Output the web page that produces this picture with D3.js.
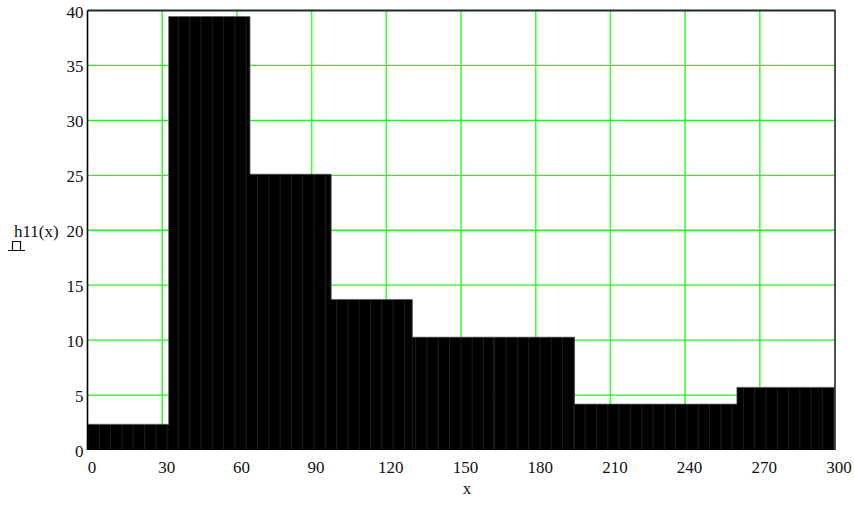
<!DOCTYPE html>
<html>
<head>
<meta charset="utf-8">
<script src="https://cdn.jsdelivr.net/npm/d3@7"></script>
<style>
  html, body { margin: 0; padding: 0; background: #fff; }
  svg { display: block; }
  svg text { font-family: "Liberation Serif", "Times New Roman", serif !important; fill: #111; font-size: 17px; }
</style>
</head>
<body>
<svg id="chart" width="854" height="508"></svg>
<script>
// Histogram step function h11(x): bin edges and heights
const binEdges = [0, 32.6, 65.2, 97.8, 130.4, 163, 195.6, 228.2, 260.8, 293.4, 326];
const binHeights = [2.34, 39.45, 25.1, 13.7, 10.27, 10.27, 4.18, 4.18, 5.7, 5.7];
const xTicks = [0, 30, 60, 90, 120, 150, 180, 210, 240, 270, 300];
const yTicks = [0, 5, 10, 15, 20, 25, 30, 35, 40];

const W = 854, H = 508;
const m = { left: 87.5, right: 19.5, top: 10.5, bottom: 58 };
const iw = W - m.left - m.right, ih = H - m.top - m.bottom;

const svg = d3.select("#chart");
const x = d3.scaleLinear().domain([0, 300]).range([m.left, m.left + iw]);
const y = d3.scaleLinear().domain([0, 40]).range([m.top + ih, m.top]);

const defs = svg.append("defs");
defs.append("clipPath").attr("id", "plotClip")
  .append("rect").attr("x", m.left).attr("y", m.top - 1).attr("width", iw).attr("height", ih + 1);

// Fine vertical striping inside the bars
const pat = defs.append("pattern").attr("id", "stripes")
  .attr("patternUnits", "userSpaceOnUse")
  .attr("x", m.left).attr("y", 0).attr("width", 11.3).attr("height", 10);
pat.append("rect").attr("width", 11.3).attr("height", 10).attr("fill", "#000");
pat.append("line").attr("x1", 0.5).attr("x2", 0.5).attr("y1", 0).attr("y2", 10)
  .attr("stroke", "#1b1b1b").attr("stroke-width", 1);

// Green grid
const grid = svg.append("g");
grid.selectAll("line.gx").data(xTicks.slice(1, -1)).join("line")
  .attr("x1", d => x(d)).attr("x2", d => x(d))
  .attr("y1", m.top).attr("y2", m.top + ih)
  .attr("stroke", "#3cff3c").attr("stroke-width", 1.6);
grid.selectAll("line.gy").data(yTicks.slice(1, -1)).join("line")
  .attr("x1", m.left).attr("x2", m.left + iw)
  .attr("y1", d => y(d)).attr("y2", d => y(d))
  .attr("stroke", "#22f522").attr("stroke-width", 1.3);

// Bars
const bins = binHeights.map((h, i) => ({ x0: binEdges[i], x1: binEdges[i + 1], h }));
const plot = svg.append("g").attr("clip-path", "url(#plotClip)");
plot.selectAll("rect").data(bins).join("rect")
  .attr("x", d => x(d.x0))
  .attr("width", d => x(d.x1) - x(d.x0) + 0.3)
  .attr("y", d => y(d.h))
  .attr("height", d => y(0) - y(d.h))
  .attr("fill", "url(#stripes)");

// Soft grey outline along the step profile
const stepPts = [[binEdges[0], 0]];
bins.forEach(d => { stepPts.push([d.x0, d.h]); stepPts.push([d.x1, d.h]); });
plot.append("path")
  .attr("d", d3.line().x(p => x(p[0])).y(p => y(p[1]))(stepPts))
  .attr("fill", "none").attr("stroke", "#5a5a5a").attr("stroke-width", 0.7);

// Frame
svg.append("line").attr("x1", m.left).attr("x2", m.left + iw + 1)
  .attr("y1", m.top).attr("y2", m.top).attr("stroke", "#1c2e1c").attr("stroke-width", 2);
svg.append("line").attr("x1", m.left + iw + 0.5).attr("x2", m.left + iw + 0.5)
  .attr("y1", m.top).attr("y2", m.top + ih).attr("stroke", "#1c2e1c").attr("stroke-width", 1.6);
svg.append("line").attr("x1", m.left).attr("x2", m.left)
  .attr("y1", m.top).attr("y2", m.top + ih).attr("stroke", "#000").attr("stroke-width", 1.6);

// Axis tick labels
const xAxis = d3.axisBottom(x).tickValues(xTicks).tickSize(0).tickPadding(0);
const gx = svg.append("g").attr("transform", `translate(4,${m.top + ih})`).call(xAxis)
  .attr("font-family", null).attr("font-size", null);
gx.select(".domain").remove();
gx.selectAll("text").attr("dy", null).attr("y", 23);

const yAxis = d3.axisLeft(y).tickValues(yTicks).tickSize(0).tickPadding(0);
const gy = svg.append("g").attr("transform", `translate(${m.left - 4},0)`).call(yAxis)
  .attr("font-family", null).attr("font-size", null);
gy.select(".domain").remove();
gy.selectAll("text").attr("dy", null).attr("y", 6.5);

// Axis titles
svg.append("text").attr("x", x(150) + 6).attr("y", 494).attr("text-anchor", "middle").text("x");
svg.append("text").attr("x", 14).attr("y", 237).text("h11(x)");

// Trace marker for bar-type trace
svg.append("path")
  .attr("d", "M8,250.5 H25 M12.5,250.5 V241.5 H20.5 V250.5")
  .attr("fill", "none").attr("stroke", "#111").attr("stroke-width", 1.2);
</script>
</body>
</html>
